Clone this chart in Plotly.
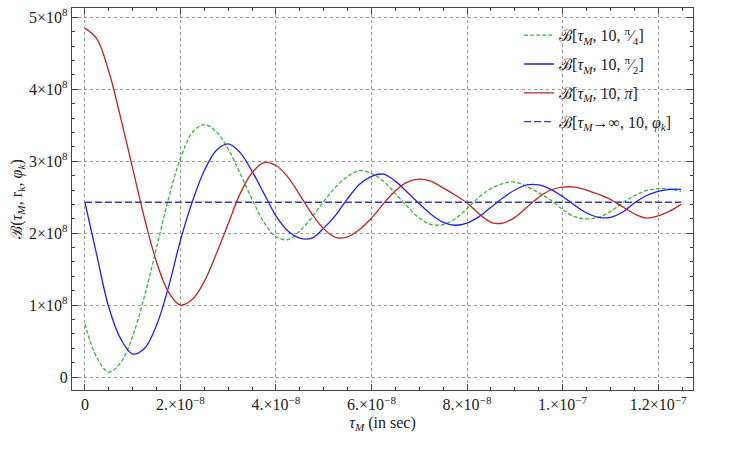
import numpy as np
import plotly.graph_objects as go

# time in units of 1e-8 s (read every 0.25), values in units of 1e8
t_grid = [0, 0.25, 0.5, 0.75, 1.0, 1.25, 1.5, 1.75, 2.0, 2.25, 2.5, 2.75, 3.0, 3.25, 3.5, 3.75, 4.0,
          4.25, 4.5, 4.75, 5.0, 5.25, 5.5, 5.75, 6.0, 6.25, 6.5, 6.75, 7.0, 7.25, 7.5, 7.75, 8.0, 8.25,
          8.5, 8.75, 9.0, 9.25, 9.5, 9.75, 10.0, 10.25, 10.5, 10.75, 11.0, 11.25, 11.5, 11.75, 12.0,
          12.25, 12.48]

v_red = [4.85, 4.70, 4.25, 3.60, 2.90, 2.2, 1.6, 1.18, 1.0, 1.08, 1.33, 1.71, 2.13, 2.55, 2.84, 2.98, 2.94,
         2.78, 2.53, 2.27, 2.06, 1.94, 1.95, 2.05, 2.21, 2.41, 2.59, 2.71, 2.75, 2.72, 2.63, 2.53, 2.42, 2.27,
         2.15, 2.14, 2.22, 2.36, 2.5, 2.6, 2.64, 2.64, 2.6, 2.54, 2.47, 2.37, 2.27, 2.21, 2.24, 2.31, 2.40]

v_blue = [2.43, 1.69, 0.97, 0.53, 0.32, 0.4, 0.72, 1.25, 1.9, 2.44, 2.87, 3.15, 3.24, 3.12, 2.86, 2.55, 2.24,
          2.03, 1.93, 1.93, 2.07, 2.25, 2.48, 2.68, 2.79, 2.82, 2.72, 2.57, 2.41, 2.26, 2.15, 2.11, 2.14, 2.23,
          2.36, 2.49, 2.6, 2.67, 2.67, 2.61, 2.51, 2.39, 2.28, 2.22, 2.22, 2.29, 2.42, 2.52, 2.58, 2.61, 2.61]

v_green = [0.74, 0.27, 0.07, 0.2, 0.57, 1.13, 1.8, 2.48, 3.04, 3.4, 3.51, 3.41, 3.17, 2.83, 2.47, 2.15, 1.95,
           1.91, 2.03, 2.22, 2.44, 2.64, 2.79, 2.87, 2.83, 2.72, 2.55, 2.37, 2.21, 2.12, 2.12, 2.2, 2.34, 2.5,
           2.62, 2.69, 2.71, 2.65, 2.56, 2.46, 2.33, 2.23, 2.2, 2.22, 2.3, 2.42, 2.52, 2.59, 2.62, 2.61, 2.58]

t_const = [0, 12.48]
v_const = [2.43, 2.43]

x_tickvals = [0, 2e-8, 4e-8, 6e-8, 8e-8, 1e-7, 1.2e-7]
x_ticktext = ["0", "2.×10<sup>−8</sup>", "4.×10<sup>−8</sup>", "6.×10<sup>−8</sup>", "8.×10<sup>−8</sup>",
              "1.×10<sup>−7</sup>", "1.2×10<sup>−7</sup>"]
y_tickvals = [0, 1e8, 2e8, 3e8, 4e8, 5e8]
y_ticktext = ["0", "1×10<sup>8</sup>", "2×10<sup>8</sup>", "3×10<sup>8</sup>", "4×10<sup>8</sup>", "5×10<sup>8</sup>"]

names = ["ℬ[<i>τ<sub>M</sub></i>, 10, <sup>π</sup>⁄<sub>4</sub>]",
         "ℬ[<i>τ<sub>M</sub></i>, 10, <sup>π</sup>⁄<sub>2</sub>]",
         "ℬ[<i>τ<sub>M</sub></i>, 10, <i>π</i>]",
         "ℬ[<i>τ<sub>M</sub></i>→∞, 10, <i>φ<sub>k</sub></i>]"]

sx = 1e-8
sy = 1e8
FAM = "Liberation Serif"
tx = np.array(t_grid) * sx
fig = go.Figure()
fig.add_trace(go.Scatter(x=tx, y=np.array(v_green) * sy, mode="lines", name=names[0],
                         legendgroup="g1",
                         line=dict(color="#3cb43c", width=1.3, dash="4px,2px", shape="spline")))
fig.add_trace(go.Scatter(x=tx, y=np.array(v_blue) * sy, mode="lines", name=names[1],
                         legendgroup="g2",
                         line=dict(color="#1f1fff", width=1.3, shape="spline")))
fig.add_trace(go.Scatter(x=tx, y=np.array(v_red) * sy, mode="lines", name=names[2],
                         legendgroup="g3",
                         line=dict(color="#c02424", width=1.3, shape="spline")))
fig.add_trace(go.Scatter(x=np.array(t_const) * sx, y=np.array(v_const) * sy, mode="lines", name=names[3],
                         legendgroup="g4",
                         line=dict(color="#3838c0", width=1.3, dash="7px,3px")))

font = dict(family=FAM, size=16, color="#222")
axcommon = dict(showline=True, linecolor="#444", linewidth=1.2, mirror="ticks", ticks="inside",
                ticklen=6, tickcolor="#444", showgrid=True, gridcolor="#999", griddash="dot",
                gridwidth=1, zeroline=False, tickfont=font)
fig.update_xaxes(range=[-2.7e-9, 1.273e-7], tickvals=x_tickvals, ticktext=x_ticktext,
                 minor=dict(dtick=0.5e-8, tick0=0, ticklen=3, ticks="inside", tickcolor="#444", showgrid=False),
                 title=dict(text="<i>τ<sub>M</sub></i> (in sec)", font=font, standoff=4), **axcommon)
fig.update_yaxes(range=[-0.18e8, 5.13e8], tickvals=y_tickvals, ticktext=y_ticktext,
                 minor=dict(dtick=0.2e8, tick0=0, ticklen=3, ticks="inside", tickcolor="#444", showgrid=False),
                 title=dict(text="ℬ(<i>τ<sub>M</sub></i>, r<sub>k</sub>, <i>φ<sub>k</sub></i>)", font=font, standoff=2),
                 **axcommon)
fig.update_layout(width=752, height=463, margin=dict(l=72, r=59, t=6, b=73),
                  plot_bgcolor="white", paper_bgcolor="white", font=font,
                  legend=dict(x=0.72, y=0.973, xanchor="left", yanchor="top", bgcolor="rgba(0,0,0,0)",
                              font=dict(family=FAM, size=16, color="#222"),
                              tracegroupgap=5))
fig.write_html("out.html")
